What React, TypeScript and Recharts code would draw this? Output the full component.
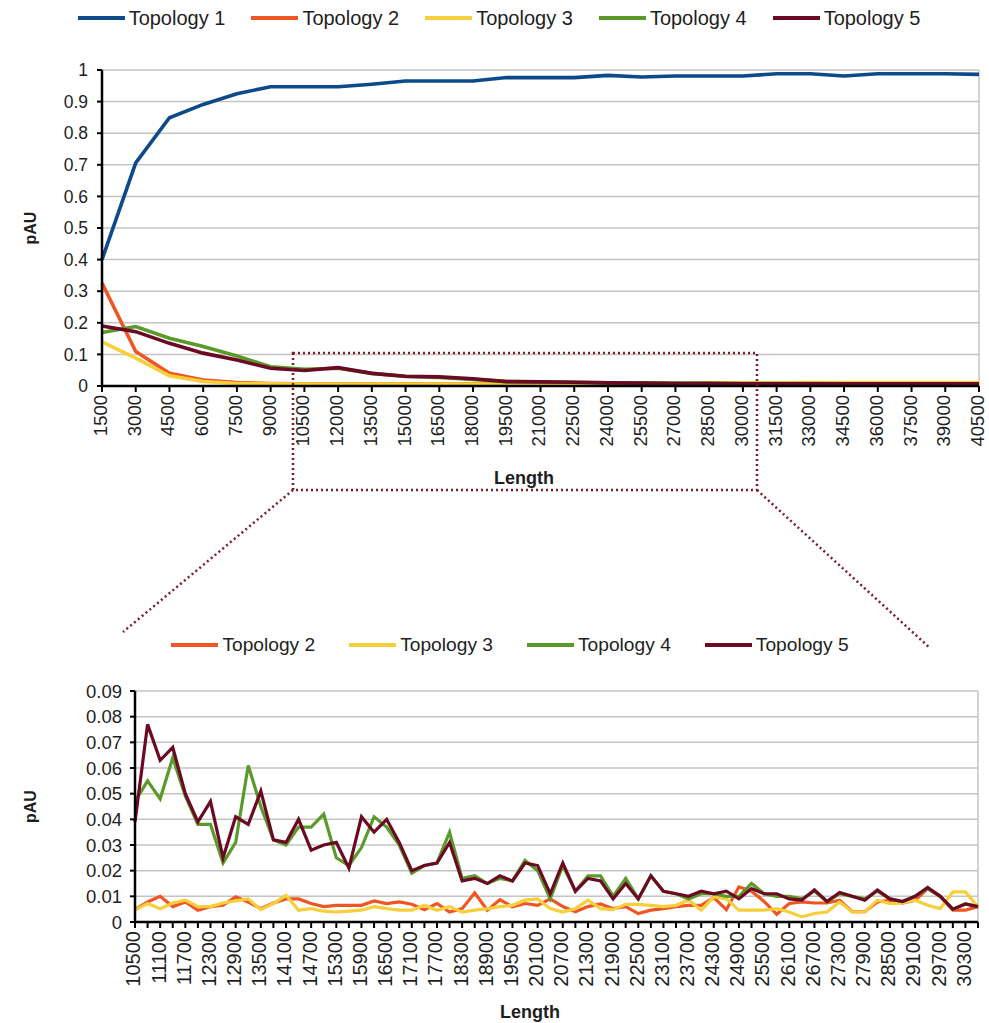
import React from "react";
import { LineChart, Line, XAxis, YAxis, CartesianGrid, Legend, ReferenceLine } from "recharts";

const FONT = "'Liberation Sans', Arial, Helvetica, sans-serif";

// upper panel: full length range
const lengthsAll = [
  1500, 3000, 4500, 6000, 7500, 9000, 10500, 12000, 13500, 15000, 16500, 18000, 19500, 21000,
  22500, 24000, 25500, 27000, 28500, 30000, 31500, 33000, 34500, 36000, 37500, 39000, 40500,
];
const topo1All = [
  0.4, 0.706, 0.849, 0.891, 0.925, 0.947, 0.947, 0.947, 0.955, 0.965, 0.965, 0.965, 0.976, 0.976,
  0.976, 0.983, 0.978, 0.981, 0.981, 0.981, 0.988, 0.988, 0.981, 0.988, 0.988, 0.988, 0.986,
];
const topo2All = [
  0.326, 0.109, 0.04, 0.019, 0.011, 0.008, 0.007, 0.007, 0.007, 0.007, 0.007, 0.007, 0.007, 0.007,
  0.007, 0.007, 0.007, 0.007, 0.007, 0.007, 0.007, 0.008, 0.008, 0.008, 0.008, 0.008, 0.008,
];
const topo3All = [
  0.14, 0.088, 0.032, 0.014, 0.008, 0.007, 0.006, 0.006, 0.006, 0.006, 0.006, 0.006, 0.006, 0.006,
  0.007, 0.007, 0.008, 0.008, 0.009, 0.01, 0.01, 0.011, 0.011, 0.011, 0.011, 0.011, 0.011,
];
const topo4All = [
  0.169, 0.188, 0.151, 0.125, 0.095, 0.061, 0.053, 0.056, 0.04, 0.03, 0.027, 0.021, 0.014, 0.013,
  0.012, 0.01, 0.01, 0.009, 0.009, 0.008, 0.008, 0.008, 0.007, 0.007, 0.007, 0.007, 0.007,
];
const topo5All = [
  0.19, 0.172, 0.135, 0.104, 0.082, 0.056, 0.049, 0.058, 0.04, 0.031, 0.029, 0.023, 0.014, 0.013,
  0.012, 0.01, 0.009, 0.008, 0.008, 0.007, 0.007, 0.007, 0.007, 0.007, 0.007, 0.007, 0.007,
];
const ticksAllY = [0, 0.1, 0.2, 0.3, 0.4, 0.5, 0.6, 0.7, 0.8, 0.9, 1];

// lower panel: zoom on 10500 - 30600
const lengthsZoom = [
  10500, 10800, 11100, 11400, 11700, 12000, 12300, 12600, 12900, 13200, 13500, 13800, 14100, 14400,
  14700, 15000, 15300, 15600, 15900, 16200, 16500, 16800, 17100, 17400, 17700, 18000, 18300, 18600,
  18900, 19200, 19500, 19800, 20100, 20400, 20700, 21000, 21300, 21600, 21900, 22200, 22500, 22800,
  23100, 23400, 23700, 24000, 24300, 24600, 24900, 25200, 25500, 25800, 26100, 26400, 26700, 27000,
  27300, 27600, 27900, 28200, 28500, 28800, 29100, 29400, 29700, 30000, 30300, 30600,
];
const topo2Zoom = [
  0.0048, 0.0078, 0.01, 0.006, 0.0078, 0.0046, 0.006, 0.0065, 0.0098, 0.0078, 0.0052, 0.0074, 0.009, 0.009,
  0.0072, 0.006, 0.0065, 0.0065, 0.0065, 0.0082, 0.0072, 0.0078, 0.0069, 0.0048, 0.0072, 0.0039, 0.0052, 0.0113,
  0.0046, 0.0087, 0.0059, 0.0072, 0.0065, 0.009, 0.006, 0.004, 0.006, 0.007, 0.0052, 0.006, 0.0033, 0.0046,
  0.0052, 0.006, 0.0065, 0.0065, 0.0095, 0.0048, 0.0137, 0.012, 0.008, 0.003, 0.0072, 0.0078, 0.0074, 0.0074,
  0.0085, 0.004, 0.004, 0.0078, 0.0085, 0.0074, 0.0085, 0.013, 0.01, 0.0046, 0.0046, 0.006,
];
const topo3Zoom = [
  0.0046, 0.0072, 0.0052, 0.0074, 0.0085, 0.006, 0.006, 0.0074, 0.0082, 0.009, 0.0048, 0.0072, 0.0104, 0.0046,
  0.0052, 0.0042, 0.0039, 0.0042, 0.0046, 0.006, 0.0052, 0.0046, 0.0046, 0.0065, 0.0046, 0.006, 0.0039, 0.0046,
  0.0052, 0.006, 0.0065, 0.0085, 0.009, 0.0052, 0.0039, 0.0052, 0.0085, 0.0052, 0.0048, 0.0069, 0.0069, 0.0065,
  0.006, 0.0065, 0.0085, 0.0046, 0.0098, 0.009, 0.0046, 0.0046, 0.0046, 0.0052, 0.0039, 0.002, 0.0033, 0.0039,
  0.0078, 0.0039, 0.0039, 0.0085, 0.0072, 0.0074, 0.0085, 0.0065, 0.0052, 0.0117, 0.0117, 0.0059,
];
const topo4Zoom = [
  0.047, 0.055, 0.048, 0.064, 0.049, 0.038, 0.038, 0.023, 0.031, 0.061, 0.045, 0.032, 0.03, 0.037,
  0.037, 0.042, 0.025, 0.022, 0.029, 0.041, 0.037, 0.03, 0.019, 0.022, 0.023, 0.035, 0.017, 0.018,
  0.015, 0.017, 0.016, 0.024, 0.02, 0.009, 0.022, 0.012, 0.018, 0.018, 0.01, 0.017, 0.009, 0.018,
  0.012, 0.011, 0.009, 0.011, 0.011, 0.01, 0.01, 0.015, 0.011, 0.01, 0.01, 0.009, 0.012, 0.008,
  0.011, 0.01, 0.009, 0.012, 0.009, 0.008, 0.01, 0.013, 0.01, 0.005, 0.007, 0.006,
];
const topo5Zoom = [
  0.039, 0.077, 0.063, 0.068, 0.05, 0.039, 0.047, 0.025, 0.041, 0.038, 0.051, 0.032, 0.031, 0.04,
  0.028, 0.03, 0.031, 0.021, 0.041, 0.035, 0.04, 0.031, 0.02, 0.022, 0.023, 0.031, 0.016, 0.017,
  0.015, 0.018, 0.016, 0.023, 0.022, 0.011, 0.023, 0.012, 0.017, 0.016, 0.009, 0.015, 0.009, 0.018,
  0.012, 0.011, 0.01, 0.012, 0.011, 0.012, 0.009, 0.013, 0.011, 0.011, 0.009, 0.0085, 0.0125, 0.008,
  0.0115, 0.01, 0.0085, 0.0125, 0.009, 0.008, 0.01, 0.0135, 0.01, 0.005, 0.007, 0.006,
];
const ticksZoomY = [0, 0.01, 0.02, 0.03, 0.04, 0.05, 0.06, 0.07, 0.08, 0.09];

const series = [
  { key: "t1", name: "Topology 1", color: "#0d4a8b" },
  { key: "t2", name: "Topology 2", color: "#ef5623" },
  { key: "t3", name: "Topology 3", color: "#f7cf3b" },
  { key: "t4", name: "Topology 4", color: "#5a9a2a" },
  { key: "t5", name: "Topology 5", color: "#6c0a23" },
];

const dataAll = lengthsAll.map((length, i) => ({
  length,
  t1: topo1All[i],
  t2: topo2All[i],
  t3: topo3All[i],
  t4: topo4All[i],
  t5: topo5All[i],
}));

const dataZoom = lengthsZoom.map((length, i) => ({
  length,
  t2: topo2Zoom[i],
  t3: topo3Zoom[i],
  t4: topo4Zoom[i],
  t5: topo5Zoom[i],
}));

const GRID = "#c4c4c4";
const INK = "#1e1e1e";

function LegendRow({
  items,
  height,
  shift,
  fontSize,
  gap,
}: {
  items: typeof series;
  height: number;
  shift: number;
  fontSize: number;
  gap: number;
}) {
  return (
    <div
      style={{
        height,
        display: "flex",
        justifyContent: "center",
        alignItems: "flex-start",
        paddingLeft: shift,
        fontFamily: FONT,
        fontSize,
        lineHeight: "26px",
        color: INK,
      }}
    >
      {items.map((s, i) => (
        <div
          key={s.key}
          style={{ display: "flex", alignItems: "center", marginRight: i === items.length - 1 ? 0 : gap }}
        >
          <span style={{ display: "inline-block", width: 47, height: 4, background: s.color, marginRight: 4 }} />
          <span>{s.name}</span>
        </div>
      ))}
    </div>
  );
}

function LengthTick({ x, y, payload, step, fontSize = 20 }: any) {
  if (step && (payload.value - 10500) % step !== 0) return <g />;
  return (
    <text
      x={x}
      y={y}
      transform={`rotate(-90, ${x}, ${y})`}
      textAnchor="end"
      dy="0.27em"
      fontSize={fontSize}
      fontFamily={FONT}
      fill={INK}
    >
      {payload.value}
    </text>
  );
}

function YTitle({ cx, viewBox }: any) {
  const cy = viewBox.y + viewBox.height / 2;
  return (
    <text
      x={cx}
      y={cy}
      transform={`rotate(-90, ${cx}, ${cy})`}
      textAnchor="middle"
      dominantBaseline="central"
      fontSize={16}
      fontWeight="bold"
      fontFamily={FONT}
      fill={INK}
    >
      pAU
    </text>
  );
}

function XTitle({ cx, dy, viewBox }: any) {
  return (
    <text
      x={cx}
      y={viewBox.y + dy}
      textAnchor="middle"
      dominantBaseline="central"
      fontSize={18}
      fontWeight="bold"
      fontFamily={FONT}
      fill={INK}
    >
      Length
    </text>
  );
}

export default function App() {
  return (
    <div style={{ position: "absolute", left: 0, top: 0, width: 989, height: 1023, background: "#fff" }}>
      <div style={{ position: "absolute", left: 0, top: 0 }}>
        <LineChart width={989} height={500} data={dataAll} margin={{ top: 5, right: 10, bottom: 14, left: 12 }}>
          <Legend
            verticalAlign="top"
            wrapperStyle={{ left: 0, width: 989 }}
            content={() => <LegendRow items={series} height={65} shift={9} fontSize={20} gap={26} />}
          />
          <CartesianGrid vertical={false} stroke={GRID} strokeWidth={1.5} />
          <ReferenceLine x={40500} stroke={GRID} strokeWidth={1.5} />
          <XAxis
            dataKey="length"
            type="number"
            domain={[1500, 40500]}
            ticks={lengthsAll}
            interval={0}
            height={100}
            tickSize={6}
            tickMargin={3}
            axisLine={{ stroke: "#000", strokeWidth: 2.5 }}
            tickLine={{ stroke: "#000", strokeWidth: 2 }}
            tick={<LengthTick fontSize={18.5} />}
            label={<XTitle cx={524} dy={92} />}
          />
          <YAxis
            type="number"
            domain={[0, 1]}
            ticks={ticksAllY}
            interval={0}
            width={90}
            tickSize={5}
            tickMargin={9}
            axisLine={{ stroke: "#000", strokeWidth: 2.5 }}
            tickLine={{ stroke: "#000", strokeWidth: 2 }}
            tick={{ fill: INK, fontSize: 17.5, fontFamily: FONT }}
            label={<YTitle cx={30} />}
          />
          {series.map((s) => (
            <Line
              key={s.key}
              dataKey={s.key}
              name={s.name}
              stroke={s.color}
              strokeWidth={3.6}
              dot={false}
              activeDot={false}
              isAnimationActive={false}
            />
          ))}
        </LineChart>
      </div>

      <div style={{ position: "absolute", left: 0, top: 618 }}>
        <LineChart width={989} height={405} data={dataZoom} margin={{ top: 14, right: 11, bottom: 11, left: 45 }}>
          <Legend
            verticalAlign="top"
            wrapperStyle={{ left: 0, width: 989 }}
            content={() => (
              <LegendRow items={series.slice(1)} height={59} shift={31} fontSize={19.2} gap={34} />
            )}
          />
          <CartesianGrid vertical={false} stroke={GRID} strokeWidth={1.5} />
          <ReferenceLine x={30600} stroke={GRID} strokeWidth={1.5} />
          <XAxis
            dataKey="length"
            type="number"
            domain={[10500, 30600]}
            ticks={lengthsZoom}
            interval={0}
            height={90}
            tickSize={6}
            tickMargin={3}
            axisLine={{ stroke: "#000", strokeWidth: 2.5 }}
            tickLine={{ stroke: "#000", strokeWidth: 2 }}
            tick={<LengthTick step={600} />}
            label={<XTitle cx={530} dy={90} />}
          />
          <YAxis
            type="number"
            domain={[0, 0.09]}
            ticks={ticksZoomY}
            interval={0}
            width={90}
            tickSize={5}
            tickMargin={8}
            axisLine={{ stroke: "#000", strokeWidth: 2.5 }}
            tickLine={{ stroke: "#000", strokeWidth: 2 }}
            tick={{ fill: INK, fontSize: 18.5, fontFamily: FONT }}
            label={<YTitle cx={30} />}
          />
          {series.slice(1).map((s) => (
            <Line
              key={s.key}
              dataKey={s.key}
              name={s.name}
              stroke={s.color}
              strokeWidth={3.2}
              dot={false}
              activeDot={false}
              isAnimationActive={false}
            />
          ))}
        </LineChart>
      </div>

      {/* zoom indicator linking the two panels */}
      <svg
        width={989}
        height={1023}
        style={{ position: "absolute", left: 0, top: 0, pointerEvents: "none" }}
      >
        <g stroke="#7a1a2b" strokeWidth={2.5} strokeDasharray="2 3" fill="none">
          <rect x={293} y={353} width={464} height={137} />
          <line x1={293} y1={490} x2={123} y2={632} />
          <line x1={757} y1={490} x2={930} y2={648} />
        </g>
      </svg>
    </div>
  );
}
